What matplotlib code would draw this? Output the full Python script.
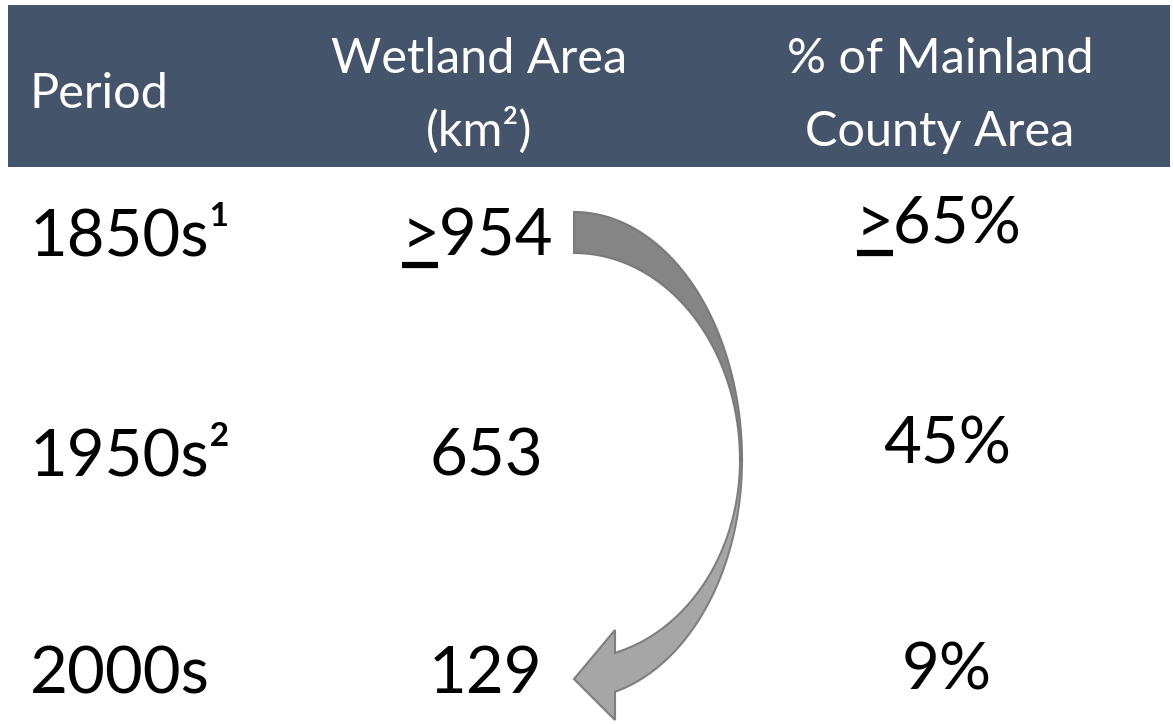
import matplotlib.pyplot as plt
import numpy as np
from matplotlib.patches import Rectangle, Polygon

plt.rcParams['font.family'] = ['Lato', 'DejaVu Sans']

# table content
periods = ['1850s', '1950s', '2000s']
period_notes = ['\u00b9', '\u00b2', '']
wetland_km2 = [954, 653, 129]
pct_county = [65, 45, 9]
lower_bound = [True, False, False]

headers = ['Period', 'Wetland Area\n(km\u00b2)', '% of Mainland\nCounty Area']

# layout in pixels (y grows downward)
W, H = 1173, 724
row_base = [255, 475, 693]
pct_base = [243, 463, 690]
area_x = [477, 486, 486]
pct_x = [939, 947, 947]

HEAD_BG = '#44546a'

fig = plt.figure(figsize=(W / 100, H / 100), dpi=100)
ax = fig.add_axes([0, 0, 1, 1])
ax.set_xlim(0, W)
ax.set_ylim(H, 0)
ax.axis('off')

# header band
ax.add_patch(Rectangle((8, 5), 1162, 162, facecolor=HEAD_BG, edgecolor='none'))
ax.text(30, 108, headers[0], color='white', fontsize=35, va='baseline', ha='left')
for cx, txt in [(479, headers[1]), (940, headers[2])]:
    top, bottom = txt.split('\n')
    ax.text(cx, 73, top, color='white', fontsize=35, va='baseline', ha='center')
    ax.text(cx, 146, bottom, color='white', fontsize=35, va='baseline', ha='center')

fig.canvas.draw()
renderer = fig.canvas.get_renderer()
inv = ax.transData.inverted()


def bounded_text(x, y, value, bounded):
    """Draw a number, with an underlined '>' in front when it is a lower bound."""
    s = ('>' if bounded else '') + value
    t = ax.text(x, y, s, fontsize=47, va='baseline', ha='center', color='black')
    if bounded:
        bb = t.get_window_extent(renderer)
        probe = ax.text(0, 0, '>', fontsize=47)
        pw = probe.get_window_extent(renderer).width
        probe.remove()
        (x0, _), (x1, _) = inv.transform([(bb.x0, 0), (bb.x0 + pw, 0)])
        ax.plot([x0 + 1, x1 - 1], [y + 10, y + 10], color='black', lw=4.5,
                solid_capstyle='butt')


for i, p in enumerate(periods):
    ax.text(30, row_base[i], p + period_notes[i], fontsize=47, va='baseline', ha='left')
    bounded_text(area_x[i], row_base[i], str(wetland_km2[i]), lower_bound[i])
    bounded_text(pct_x[i], pct_base[i], f'{pct_county[i]}%', lower_bound[i])

# curved arrow from the first row down to the last
cx, cy = 574, 460
t_up = np.linspace(0, np.pi / 2, 80)
outer_up = np.c_[cx + 168 * np.sin(t_up), cy - 248 * np.cos(t_up)]
inner_up = np.c_[cx + 166 * np.sin(t_up), cy - 207 * np.cos(t_up)][::-1]
ax.add_patch(Polygon(np.vstack([outer_up, inner_up]), closed=True,
                     facecolor='#858585', edgecolor='#7a7a7a', lw=1.5, zorder=3))

t_end = np.arcsin(41 / 168)
t_dn = np.linspace(np.pi / 2, t_end, 80)
outer_dn = np.c_[cx + 168 * np.sin(t_dn), cy + 239 * np.cos(t_dn)]
t_end_in = np.arcsin(41 / 166)
t_in = np.linspace(t_end_in, np.pi / 2, 80)
inner_dn = np.c_[cx + 166 * np.sin(t_in), cy + 199 * np.cos(t_in)]
head = np.array([[615, 720], [574, 679], [615, 630]])
ax.add_patch(Polygon(np.vstack([outer_dn, head, inner_dn]), closed=True,
                     facecolor='#a6a6a6', edgecolor='#7f7f7f', lw=1.5, zorder=2))

fig.savefig('out.png', dpi=100)
